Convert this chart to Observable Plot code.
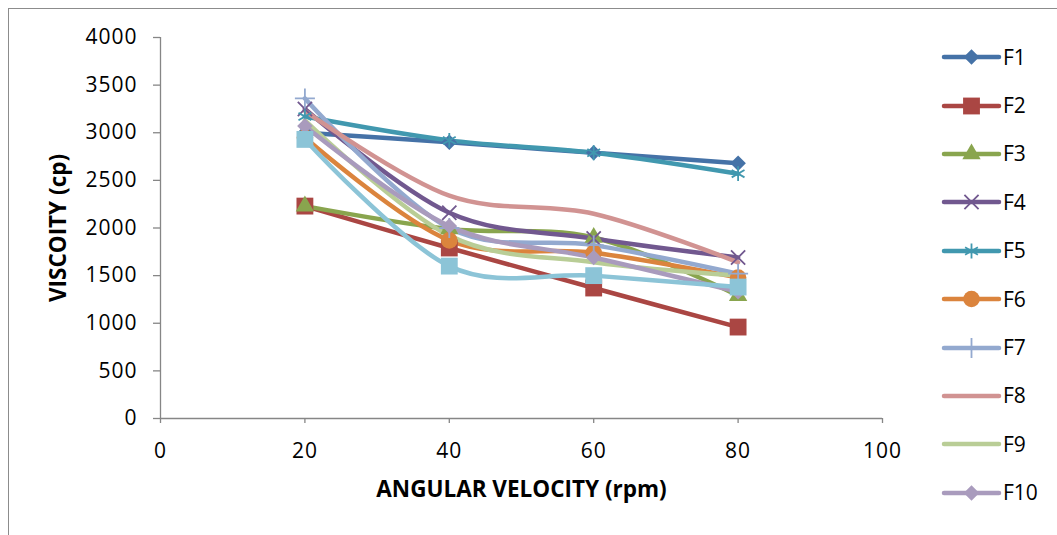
<!DOCTYPE html>
<html>
<head>
<meta charset="utf-8">
<script src="https://cdn.jsdelivr.net/npm/d3@7"></script>
<script src="https://cdn.jsdelivr.net/npm/@observablehq/plot@0.6"></script>
<style>
  html, body { margin: 0; padding: 0; background: #fff; }
  #wrap { position: relative; width: 1057px; height: 535px; overflow: hidden; font-family: "Open Sans", sans-serif; }
  #frame { position: absolute; left: 8px; top: 8px; width: 1200px; height: 700px; border: 1px solid #8c8c8c; box-sizing: border-box; }
  #chart { position: absolute; left: 0; top: 0; }
  #legend { position: absolute; left: 940px; top: 33px; }
  .row { display: flex; align-items: center; height: 48.4px; }
  .row span { font-size: 21px; color: #000; margin-left: 1px; line-height: 1; }
  svg text { fill: #000; }
  g[aria-label="x-axis tick"] path, g[aria-label="y-axis tick"] path { stroke: #868686; stroke-width: 1.3; }
  g[aria-label="x-axis label"] text, g[aria-label="y-axis label"] text { font-weight: bold; font-size: 22.5px; }
  g[aria-label="x-axis tick label"] text, g[aria-label="y-axis tick label"] text { letter-spacing: 1px; font-size: 21px; }
</style>
</head>
<body>
<div id="wrap">
  <div id="frame"></div>
  <div id="chart"></div>
  <div id="legend"></div>
</div>
<script>
// ---- data ----
const rpm = [20, 40, 60, 80];
const seriesNames = ["F1", "F2", "F3", "F4", "F5", "F6", "F7", "F8", "F9", "F10", "F11"];
const legendNames = ["F1", "F2", "F3", "F4", "F5", "F6", "F7", "F8", "F9", "F10"];
const F1 = [3000, 2900, 2790, 2680];
const F2 = [2230, 1790, 1370, 960];
const F3 = [2230, 1990, 1900, 1290];
const F4 = [3250, 2160, 1890, 1690];
const F5 = [3170, 2920, 2790, 2570];
const F6 = [2950, 1870, 1740, 1480];
const F7 = [3360, 2000, 1820, 1520];
const F8 = [3230, 2340, 2150, 1640];
const F9 = [3130, 1920, 1640, 1500];
const F10 = [3070, 2020, 1690, 1330];
const F11 = [2930, 1600, 1500, 1380];
const xTicks = [0, 20, 40, 60, 80, 100];
const yTicks = [0, 500, 1000, 1500, 2000, 2500, 3000, 3500, 4000];

// ---- styles ----
const colors = ["#4572A7", "#AA4643", "#89A54E", "#71588F", "#4198AF", "#DB843D", "#93A9CF", "#D19392", "#B9CD96", "#A99BBD", "#8CC4D7"];
const symbols = ["diamond2", "square", "triangle", "times", "asterisk", "circle", "plus", null, null, "diamond2", "square"];
const strokeSymbols = new Set(["times", "asterisk", "plus"]);
const d3Sym = {diamond2: d3.symbolDiamond2, square: d3.symbolSquare, triangle: d3.symbolTriangle, times: d3.symbolTimes, asterisk: d3.symbolAsterisk, circle: d3.symbolCircle, plus: d3.symbolPlus};
const sizes = {diamond2: 7, square: 9.5, triangle: 6.8, times: 6.5, asterisk: 7, circle: 8.3, plus: 6.5};

const values = [F1, F2, F3, F4, F5, F6, F7, F8, F9, F10, F11];
const series = seriesNames.map((name, i) => rpm.map((x, j) => ({name, x, y: values[i][j]})));

const lineMarks = series.map((d, i) => Plot.line(d, {x: "x", y: "y", stroke: colors[i], strokeWidth: 4.5, curve: "cardinal", strokeLinecap: "round", strokeLinejoin: "round"}));
const dotMarks = series.map((d, i) => {
  const s = symbols[i];
  if (!s) return null;
  return strokeSymbols.has(s)
    ? Plot.dot(d, {x: "x", y: "y", symbol: s, r: sizes[s], stroke: colors[i], fill: "none", strokeWidth: 1.8})
    : Plot.dot(d, {x: "x", y: "y", symbol: s, r: sizes[s], fill: colors[i], stroke: "none"});
}).filter(Boolean);

const chart = Plot.plot({
  width: 1057,
  height: 535,
  marginLeft: 160,
  marginRight: 175,
  marginTop: 37,
  marginBottom: 117,
  style: {fontFamily: "Open Sans, sans-serif", fontSize: "20px", background: "transparent", color: "#000"},
  x: {domain: [0, 100], ticks: xTicks, tickFormat: d => String(d), tickSize: 5, tickPadding: 20, label: "ANGULAR VELOCITY (rpm)", labelAnchor: "center", labelOffset: 78, labelArrow: "none"},
  y: {domain: [0, 4000], ticks: yTicks, tickFormat: d => String(d), tickSize: 7, tickPadding: 16, label: "VISCOITY (cp)", labelAnchor: "center", labelOffset: 110, labelArrow: "none"},
  marks: [
    Plot.ruleY([0], {stroke: "#868686", strokeWidth: 1.3}),
    Plot.ruleX([0], {stroke: "#868686", strokeWidth: 1.3}),
    ...lineMarks,
    ...dotMarks
  ]
});
document.getElementById("chart").appendChild(chart);

// ---- legend ----
const legend = d3.select("#legend");
legendNames.forEach((name, i) => {
  const row = legend.append("div").attr("class", "row");
  const svg = row.append("svg").attr("width", 62).attr("height", 24);
  svg.append("line").attr("x1", 4).attr("x2", 59).attr("y1", 12).attr("y2", 12)
    .attr("stroke", colors[i]).attr("stroke-width", 4.5).attr("stroke-linecap", "round");
  const s = symbols[i];
  if (s) {
    const p = svg.append("path").attr("transform", "translate(31.5,12)")
      .attr("d", d3.symbol(d3Sym[s], Math.PI * sizes[s] * sizes[s])());
    if (strokeSymbols.has(s)) p.attr("fill", "none").attr("stroke", colors[i]).attr("stroke-width", 1.8);
    else p.attr("fill", colors[i]);
  }
  row.append("span").text(name);
});
</script>
</body>
</html>
